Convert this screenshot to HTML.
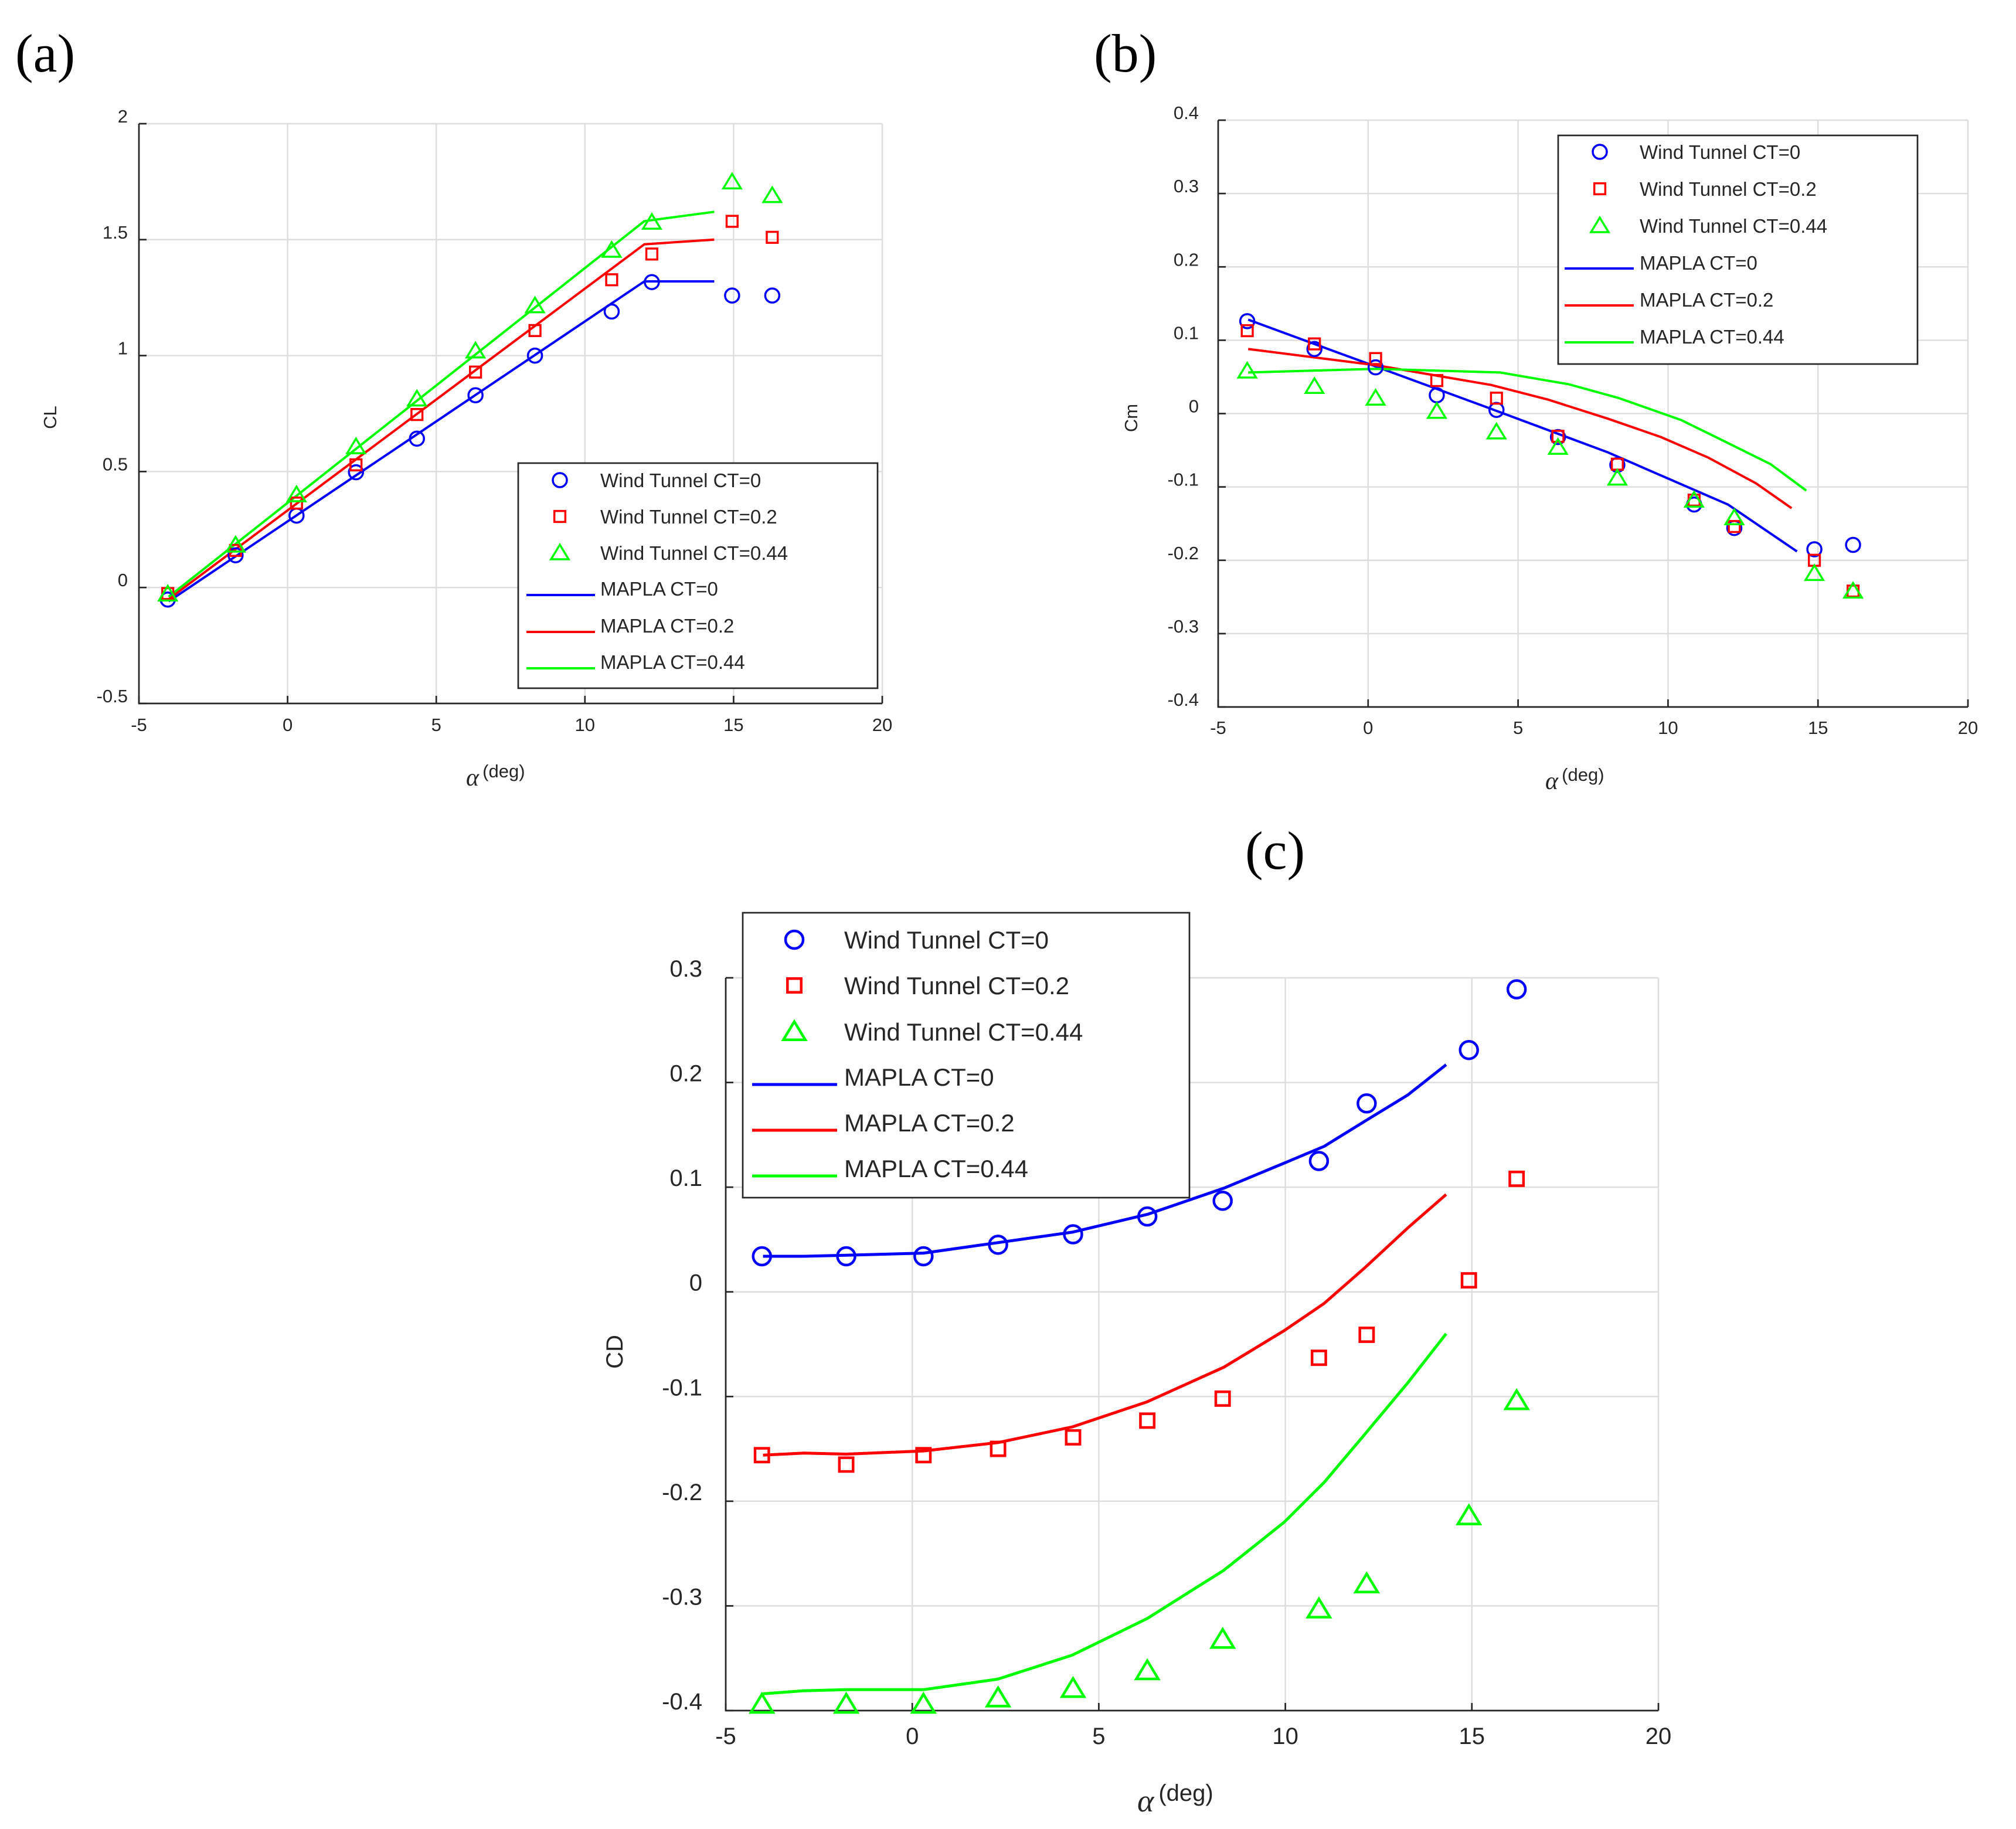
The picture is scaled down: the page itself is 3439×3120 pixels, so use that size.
<!DOCTYPE html>
<html><head><meta charset="utf-8">
<style>
html,body{margin:0;padding:0;background:#fff;}
svg{display:block;}
text{font-family:"Liberation Sans",sans-serif;fill:#262626;}
.pl{font-family:"Liberation Serif",serif;fill:#000;}
</style></head>
<body>
<svg id="fig" width="3439" height="3120" viewBox="0 0 3439 3120" xmlns="http://www.w3.org/2000/svg">
<rect width="3439" height="3120" fill="#fff"/>
<text class="pl" x="26" y="122" font-size="92">(a)</text>
<text class="pl" x="1866" y="122" font-size="92">(b)</text>
<text class="pl" x="2124" y="1482" font-size="92">(c)</text>
</svg>
<script>
// ---------- Panel (a) CL ----------
const alphaA = [-4.03,-1.75,0.3,2.3,4.35,6.32,8.32,10.9,12.25,14.95,16.3];
const clWT0   = [-0.052,0.139,0.31,0.497,0.642,0.829,1.0,1.19,1.317,1.259,1.259];
const clWT02  = [-0.026,0.16,0.364,0.529,0.746,0.929,1.108,1.327,1.438,1.579,1.51];
const clWT044 = [-0.028,0.183,0.40,0.607,0.813,1.02,1.215,1.454,1.575,1.749,1.69];
const alphaLineA = [-4,12,14.35];
const clM0   = [-0.06,1.32,1.32];
const clM02  = [-0.05,1.48,1.50];
const clM044 = [-0.04,1.58,1.62];
const xTicks = [-5,0,5,10,15,20];
const yTicksA = [-0.5,0,0.5,1,1.5,2];
const yTickLabelsA = ["-0.5","0","0.5","1","1.5","2"];

// ---------- Panel (b) Cm ----------
const alphaB = [-4.03,-1.79,0.25,2.29,4.28,6.33,8.31,10.87,12.21,14.88,16.17];
const cmWT0   = [0.126,0.088,0.063,0.025,0.005,-0.032,-0.070,-0.124,-0.156,-0.185,-0.179];
const cmWT02  = [0.113,0.095,0.075,0.045,0.021,-0.031,-0.069,-0.118,-0.154,-0.200,-0.242];
const cmWT044 = [0.058,0.037,0.021,0.003,-0.025,-0.046,-0.088,-0.118,-0.142,-0.218,-0.242];
const alphaLineB0 = [-4,0,4,8,12,14.3];
const cmM0 = [0.128,0.068,0.008,-0.053,-0.124,-0.188];
const alphaLineB02 = [-4,0.25,4.1,6,8,9.76,11.34,12.93,14.12];
const cmM02 = [0.088,0.066,0.039,0.019,-0.007,-0.032,-0.06,-0.095,-0.129];
const alphaLineB044 = [-4,0.25,4.4,6.69,8.37,10.45,12.04,13.42,14.61];
const cmM044 = [0.056,0.061,0.056,0.040,0.021,-0.009,-0.041,-0.069,-0.105];
const yTicksB = [-0.4,-0.3,-0.2,-0.1,0,0.1,0.2,0.3,0.4];
const yTickLabelsB = ["-0.4","-0.3","-0.2","-0.1","0","0.1","0.2","0.3","0.4"];

// ---------- Panel (c) CD ----------
const alphaC = [-4.03,-1.77,0.3,2.3,4.31,6.3,8.32,10.9,12.18,14.92,16.2];
const cdWT0   = [0.034,0.034,0.034,0.045,0.055,0.072,0.087,0.125,0.180,0.231,0.289];
const cdWT02  = [-0.156,-0.165,-0.156,-0.150,-0.139,-0.123,-0.102,-0.063,-0.041,0.011,0.108];
const cdWT044 = [-0.394,-0.394,-0.394,-0.388,-0.379,-0.362,-0.332,-0.303,-0.279,-0.214,-0.104];
const alphaLineC = [-4,-2.9,-1.77,0.3,2.29,4.29,6.3,8.35,9.97,11.04,12.13,13.28,14.31];
const cdM0   = [0.034,0.034,0.035,0.037,0.047,0.057,0.074,0.099,0.123,0.139,0.163,0.188,0.217];
const cdM02  = [-0.156,-0.154,-0.155,-0.152,-0.144,-0.129,-0.105,-0.072,-0.037,-0.011,0.023,0.061,0.093];
const cdM044 = [-0.384,-0.381,-0.380,-0.380,-0.370,-0.347,-0.312,-0.266,-0.220,-0.182,-0.136,-0.087,-0.040];
const yTicksC = [-0.4,-0.3,-0.2,-0.1,0,0.1,0.2,0.3];
const yTickLabelsC = ["-0.4","-0.3","-0.2","-0.1","0","0.1","0.2","0.3"];

const legendLabels = ["Wind Tunnel CT=0","Wind Tunnel CT=0.2","Wind Tunnel CT=0.44","MAPLA CT=0","MAPLA CT=0.2","MAPLA CT=0.44"];
const BLUE="#0000ff", RED="#ff0000", GREEN="#00ff00";

const NS="http://www.w3.org/2000/svg";
const svg=document.getElementById('fig');
function mk(tag,attrs,parent){const e=document.createElementNS(NS,tag);for(const k in attrs)e.setAttribute(k,attrs[k]);(parent||svg).appendChild(e);return e;}

function marker(g,type,cx,cy,sz,col,sw){
  let e;
  if(type==='o') e=mk('circle',{cx:cx,cy:cy,r:sz,fill:'none',stroke:col,'stroke-width':sw},g);
  else if(type==='s') e=mk('rect',{x:cx-sz*0.78,y:cy-sz*0.78,width:sz*1.56,height:sz*1.56,fill:'none',stroke:col,'stroke-width':sw},g);
  else { const h=sz*1.15; e=mk('polygon',{points:(cx)+','+(cy-h)+' '+(cx+sz*1.25)+','+(cy+h*0.8)+' '+(cx-sz*1.25)+','+(cy+h*0.8),fill:'none',stroke:col,'stroke-width':sw},g);}
  return e;
}

function panel(P){
  const g=mk('g',{});
  
  
  const xs=v=>P.x0+(v-P.xmin)/(P.xmax-P.xmin)*(P.x1-P.x0);
  const ys=v=>P.y1-(v-P.ymin)/(P.ymax-P.ymin)*(P.y1-P.y0);
  xTicks.forEach(t=>{const l=mk('line',{x1:xs(t),x2:xs(t),y1:P.y0,y2:P.y1,stroke:'#dedede','stroke-width':2.5},g);
    
    });
  P.yt.forEach(t=>{const l=mk('line',{x1:P.x0,x2:P.x1,y1:ys(t),y2:ys(t),stroke:'#dedede','stroke-width':2.5},g);
    
    });
  const ax=mk('path',{d:`M${P.x0},${P.y0}V${P.y1}H${P.x1}`,fill:'none',stroke:'#262626','stroke-width':2.7},g);
  
  
  xTicks.forEach(t=>{mk('line',{x1:xs(t),x2:xs(t),y1:P.y1,y2:P.y1-13,stroke:'#262626','stroke-width':2.7},g);
    const tx=mk('text',{x:xs(t),y:P.xly,'font-size':P.fs,'text-anchor':'middle'},g);tx.textContent=String(t);
    
    });
  P.yt.forEach((t,i)=>{mk('line',{x1:P.x0,x2:P.x0+13,y1:ys(t),y2:ys(t),stroke:'#262626','stroke-width':2.7},g);
    const tx=mk('text',{x:P.ylx,y:ys(t)-2,'font-size':P.fs,'text-anchor':'end'},g);tx.textContent=P.ytl[i];
    
    });
  const yt=mk('text',{x:P.ytx,y:P.yty,'font-size':P.fs,'text-anchor':'middle',transform:`rotate(-90 ${P.ytx} ${P.yty})`},g);
  yt.textContent=P.ytitle;
  
  
  const xt=mk('text',{x:P.xtx,y:P.xty,'font-size':P.fs*1.35},g);
  
  
  const a=mk('tspan',{'font-family':'Liberation Serif, serif','font-style':'italic'},xt);a.textContent='α';
  const d=mk('tspan',{dx:P.fs*0.2,dy:-P.fs*0.45,'font-size':P.fs},xt);d.textContent='(deg)';
  const cols=[BLUE,RED,GREEN];
  P.lines.forEach((L,i)=>{
    const pts=L[0].map((v,j)=>xs(v).toFixed(1)+','+ys(L[1][j]).toFixed(1)).join(' ');
    const pl=mk('polyline',{points:pts,fill:'none',stroke:cols[i],'stroke-width':P.lw,'stroke-linejoin':'round'},g);
    
    
  });
  const types=['o','s','t'];
  P.pts.forEach((S,i)=>{
    S[1].forEach((v,j)=>{
      const m=marker(g,types[i],xs(S[0][j]),ys(v),P.ms,cols[i],P.msw);
      
      
    });
  });
  const Lg=P.leg;
  const lg=mk('g',{},g);
  
  
  mk('rect',{x:Lg.x0,y:Lg.y0,width:Lg.x1-Lg.x0,height:Lg.y1-Lg.y0,fill:'#fff',stroke:'#262626','stroke-width':2.7},lg);
  legendLabels.forEach((lab,i)=>{
    const ry=Lg.rows[i];
    if(i<3){ marker(lg,types[i],Lg.mx,ry,P.ms,cols[i],P.msw); }
    else { mk('line',{x1:Lg.l0,x2:Lg.l1,y1:ry+Lg.loff,y2:ry+Lg.loff,stroke:cols[i-3],'stroke-width':P.lw},lg); }
    const t=mk('text',{x:Lg.tx,y:ry+P.lfs*0.36,'font-size':P.lfs,fill:'#000'},lg);
    t.textContent=lab;
    
    
  });
}

panel({name:'cl-chart',x0:237,x1:1505,y0:211,y1:1200,xmin:-5,xmax:20,ymin:-0.5,ymax:2,
  yt:yTicksA,ytl:yTickLabelsA,fs:31,lfs:33,xly:1247,ylx:218,ytitle:'CL',ytx:96,yty:712,xtx:795,xty:1340,lw:4,ms:12,msw:3.5,
  lines:[[alphaLineA,clM0],[alphaLineA,clM02],[alphaLineA,clM044]],
  pts:[[alphaA,clWT0],[alphaA,clWT02],[alphaA,clWT044]],
  leg:{x0:884,x1:1497,y0:790,y1:1174,rows:[819,881,943,1004,1067,1129],mx:955,l0:898,l1:1015,tx:1024,loff:11}});

panel({name:'cm-chart',x0:2078,x1:3357,y0:205,y1:1206,xmin:-5,xmax:20,ymin:-0.4,ymax:0.4,
  yt:yTicksB,ytl:yTickLabelsB,fs:31,lfs:33,xly:1252,ylx:2045,ytitle:'Cm',ytx:1940,yty:713,xtx:2636,xty:1346,lw:4,ms:12,msw:3.5,
  lines:[[alphaLineB0,cmM0],[alphaLineB02,cmM02],[alphaLineB044,cmM044]],
  pts:[[alphaB,cmWT0],[alphaB,cmWT02],[alphaB,cmWT044]],
  leg:{x0:2658,x1:3271,y0:231,y1:621,rows:[259,322,385,448,511,574],mx:2729,l0:2669,l1:2787,tx:2797,loff:10}});

panel({name:'cd-chart',x0:1238,x1:2829,y0:1668,y1:2918,xmin:-5,xmax:20,ymin:-0.4,ymax:0.3,
  yt:yTicksC,ytl:yTickLabelsC,fs:40,lfs:42,xly:2975,ylx:1198,ytitle:'CD',ytx:1062,yty:2306,xtx:1940,xty:3090,lw:5,ms:15,msw:4.5,
  lines:[[alphaLineC,cdM0],[alphaLineC,cdM02],[alphaLineC,cdM044]],
  pts:[[alphaC,cdWT0],[alphaC,cdWT02],[alphaC,cdWT044]],
  leg:{x0:1267,x1:2029,y0:1557,y1:2043,rows:[1603,1681,1760,1837,1915,1993],mx:1355,l0:1283,l1:1428,tx:1440,loff:13}});
</script>
</body></html>
